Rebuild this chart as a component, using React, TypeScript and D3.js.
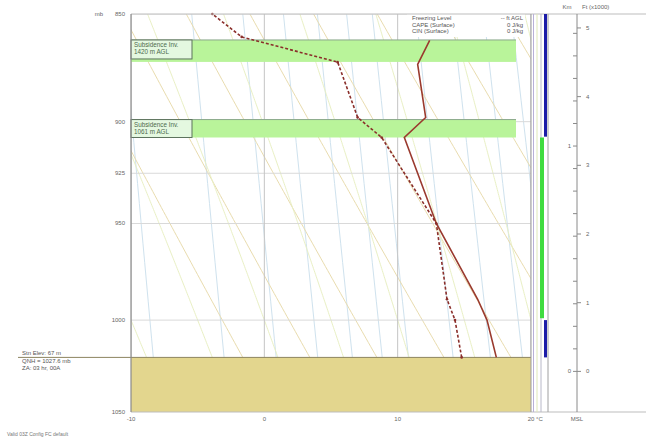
import React from "react";
import * as d3 from "d3";

// ---- data ----
const pressureTicks = [850, 900, 925, 950, 1000, 1050];
const pressureLabels = ["850", "900", "925", "950", "1000", "1050"];
const tempTicks = [-10, 0, 10, 20];
const tempTickLabels = ["-10", "0", "10", "20"];

const tempP = [1020, 1000, 989, 950, 907.6, 898, 873, 862];
const tempT = [17.4, 16.7, 16.0, 12.9, 10.5, 12.1, 11.5, 12.4];
const dewP = [1020, 1000, 989, 950, 907.6, 898, 872, 860.4, 850];
const dewT = [14.8, 14.3, 13.7, 12.9, 8.8, 7.0, 5.5, -1.7, -3.9];

const bandTopP = [861.8, 899];
const bandBotP = [871.9, 907.6];
const bandLabel1 = ["Subsidence Inv.", "Subsidence Inv."];
const bandLabel2 = ["1420 m AGL", "1061 m AGL"];

const barTopP = [850, 907.6, 1000];
const barBotP = [907.2, 999, 1020];
const barColors = ["#1c1ca8", "#3fdc3f", "#1c1ca8"];

const infoLeft = ["Freezing Level", "CAPE (Surface)", "CIN (Surface)"];
const infoRight = ["-- ft AGL", "0 J/kg", "0 J/kg"];

const stationText = ["Stn Elev: 67 m", "QNH = 1027.6 mb", "ZA: 03 hr, 00A"];
const groundP = 1020;
const qnh = 1027.6;

const kmTicks = [0, 100, 200, 300, 400, 500, 600, 700, 800, 900, 1000, 1100, 1200, 1300, 1400, 1500];
const kmLabels = ["0", "1"];
const ftTicks = [0, 1, 2, 3, 4, 5];

const dryThetas = [270, 275, 280, 285, 290, 295, 300, 305, 310, 315, 320, 325, 330, 335];
const moistStarts = [-10, -5, 0, 5, 10, 15, 20, 25, 30];
const mixRatios = [2, 3, 4, 5, 6, 7, 8, 10, 12, 14, 16, 20];

// ---- helpers ----
const FONT = "'Liberation Sans', Arial, sans-serif";
const x = d3.scaleLinear().domain([-10, 20]).range([131, 531]);
const y = d3.scaleLog().domain([850, 1050]).range([14, 412]);
const H = 8358;
const zToP = (z: number) => qnh * Math.exp(-z / H);

function presRange(step = 2) {
  return d3.range(850, 1050.01, step);
}

function dryLine(theta: number) {
  return presRange().map((p) => [theta * Math.pow(p / 1000, 0.2857) - 273.15, p] as [number, number]);
}

function satMix(T: number, p: number) {
  const es = 6.112 * Math.exp((17.67 * T) / (T + 243.5));
  return (0.622 * es) / (p - es);
}

function moistLine(t0: number) {
  const Rd = 287, cp = 1005, Lv = 2.5e6, eps = 0.622;
  const dTdp = (T: number, p: number) => {
    const Tk = T + 273.15;
    const rs = satMix(T, p);
    return ((Rd * Tk + Lv * rs) / (cp + (Lv * Lv * rs * eps) / (Rd * Tk * Tk))) / (p * 100) * 100;
  };
  const up: [number, number][] = [];
  let T = t0;
  for (let p = 1000; p >= 850; p -= 1) {
    up.push([T, p]);
    T -= dTdp(T, p) * 1;
  }
  const down: [number, number][] = [];
  T = t0;
  for (let p = 1000; p <= 1050; p += 1) {
    down.push([T, p]);
    T += dTdp(T, p) * 1;
  }
  return [...up.reverse(), ...down.slice(1)];
}

function mixLine(w: number) {
  return presRange(10).map((p) => {
    const e = (w * p) / (622 + w);
    const l = Math.log(e / 6.112);
    return [(243.5 * l) / (17.67 - l), p] as [number, number];
  });
}

const lineGen = d3
  .line<[number, number]>()
  .x((d) => x(d[0]))
  .y((d) => y(d[1]));

export default function App() {
  const tempData = tempP.map((p, i) => [tempT[i], p] as [number, number]);
  const dewData = dewP.map((p, i) => [dewT[i], p] as [number, number]);
  const gY = y(groundP);
  const axisX = 577;

  return (
    <svg
      width={646}
      height={442}
      style={{ position: "absolute", left: 0, top: 0, display: "block", background: "#fff" }}
      fontFamily={FONT}
    >
      <defs>
        <clipPath id="plot">
          <rect x={131} y={14} width={400} height={398} />
        </clipPath>
      </defs>
      <rect x={0} y={0} width={646} height={442} fill="#fff" />

      <g clipPath="url(#plot)">
        {/* mixing ratio lines */}
        {mixRatios.map((w) => (
          <path key={"w" + w} d={lineGen(mixLine(w)) || ""} fill="none" stroke="#cfe2ee" strokeWidth={1} />
        ))}
        {/* dry adiabats */}
        {dryThetas.map((t) => (
          <path key={"d" + t} d={lineGen(dryLine(t)) || ""} fill="none" stroke="#e9dcae" strokeWidth={1} />
        ))}
        {/* moist adiabats */}
        {moistStarts.map((t) => (
          <path key={"m" + t} d={lineGen(moistLine(t)) || ""} fill="none" stroke="#e9f0c4" strokeWidth={1} />
        ))}
        {/* isobars */}
        {pressureTicks.map((p) => (
          <line key={"p" + p} x1={131} x2={531} y1={y(p)} y2={y(p)} stroke="#d9d9d9" strokeWidth={1} />
        ))}
        {/* isotherms */}
        {tempTicks.map((t) => (
          <line key={"t" + t} x1={x(t)} x2={x(t)} y1={14} y2={412} stroke="#c4c4c4" strokeWidth={1} />
        ))}
      </g>

      {/* inversion bands */}
      {bandTopP.map((pt, i) => (
        <g key={"b" + i}>
          <rect x={131} y={y(pt)} width={516 - 131} height={y(bandBotP[i]) - y(pt)} fill="#b9f49a" />
          <line x1={131} x2={516} y1={y(pt)} y2={y(pt)} stroke="#8aa88a" strokeWidth={1} />
          <rect
            x={131}
            y={y(pt)}
            width={61}
            height={i === 0 ? 19 : y(bandBotP[i]) - y(pt)}
            fill="#e4f8e0"
            stroke="#5d735d"
            strokeWidth={1}
          />
          <text x={134} y={y(pt) + 7} fontSize={6.3} fill="#4d6a4d">
            {bandLabel1[i]}
          </text>
          <text x={134} y={y(pt) + 14} fontSize={6.3} fill="#4d6a4d">
            {bandLabel2[i]}
          </text>
        </g>
      ))}

      {/* ground */}
      <rect x={131} y={gY} width={400} height={412 - gY} fill="#e3d68e" />
      <line x1={18} x2={531} y1={gY} y2={gY} stroke="#8c8460" strokeWidth={1} />

      {/* profiles */}
      <path d={lineGen(tempData) || ""} fill="none" stroke="#9a3a2e" strokeWidth={1.6} />
      <path d={lineGen(dewData) || ""} fill="none" stroke="#8a2e2a" strokeWidth={1.6} strokeDasharray="3,2" />
      {dewData.map((d, i) => (
        <circle key={"dd" + i} cx={x(d[0])} cy={y(d[1])} r={1.3} fill="#8a2e2a" />
      ))}

      {/* info box */}
      <rect x={407} y={14} width={118} height={23} fill="#fff" />
      {infoLeft.map((s, i) => (
        <g key={"info" + i}>
          <text x={412} y={20 + i * 6.5} fontSize={6} fill="#555">
            {s}
          </text>
          <text x={523} y={20 + i * 6.5} fontSize={6} fill="#555" textAnchor="end">
            {infoRight[i]}
          </text>
        </g>
      ))}

      {/* frame */}
      <line x1={131} x2={646} y1={14} y2={14} stroke="#bdbdbd" strokeWidth={1} />
      <line x1={131} x2={646} y1={412} y2={412} stroke="#bdbdbd" strokeWidth={1} />
      <line x1={131} x2={131} y1={14} y2={412} stroke="#8a8a8a" strokeWidth={1.2} />
      <line x1={531} x2={531} y1={14} y2={412} stroke="#9a9a9a" strokeWidth={1} />

      {/* side columns */}
      <line x1={533.5} x2={533.5} y1={14} y2={412} stroke="#b8b0d8" strokeWidth={1} />
      <line x1={537} x2={537} y1={14} y2={412} stroke="#dfe8b8" strokeWidth={1} />
      <line x1={541} x2={541} y1={14} y2={412} stroke="#b8b8c8" strokeWidth={1} />
      <line x1={548} x2={548} y1={14} y2={412} stroke="#a0a0a0" strokeWidth={1} />
      {barTopP.map((p, i) => (
        <rect
          key={"bar" + i}
          x={i === 1 ? 540 : 544}
          y={y(p)}
          width={i === 1 ? 4 : 3}
          height={y(barBotP[i]) - y(p)}
          fill={barColors[i]}
        />
      ))}

      {/* right height axis */}
      <line x1={axisX} x2={axisX} y1={14} y2={412} stroke="#8a8a8a" strokeWidth={1} />
      {kmTicks.map((z) => (
        <line key={"km" + z} x1={axisX - 4} x2={axisX} y1={y(zToP(z))} y2={y(zToP(z))} stroke="#8a8a8a" />
      ))}
      {kmLabels.map((s, i) => (
        <text key={"kml" + i} x={axisX - 6} y={y(zToP(i * 1000)) + 2} fontSize={6} fill="#666" textAnchor="end">
          {s}
        </text>
      ))}
      {ftTicks.map((f) => (
        <g key={"ft" + f}>
          <line x1={axisX} x2={axisX + 4} y1={y(zToP(f * 304.8))} y2={y(zToP(f * 304.8))} stroke="#8a8a8a" />
          <text x={axisX + 9} y={y(zToP(f * 304.8)) + 2} fontSize={6} fill="#666">
            {f}
          </text>
        </g>
      ))}
      <text x={567} y={9} fontSize={6} fill="#666" textAnchor="middle">
        Km
      </text>
      <text x={582} y={9} fontSize={6} fill="#666">
        Ft (x1000)
      </text>
      <text x={577} y={421} fontSize={6} fill="#666" textAnchor="middle">
        MSL
      </text>

      {/* pressure axis labels */}
      <text x={103} y={16} fontSize={6} fill="#666" textAnchor="end">
        mb
      </text>
      {pressureTicks.map((p, i) => (
        <text key={"pl" + i} x={125} y={y(p) + 2} fontSize={6} fill="#666" textAnchor="end">
          {pressureLabels[i]}
        </text>
      ))}

      {/* temperature axis labels */}
      {tempTicks.map((t, i) => (
        <text key={"tl" + i} x={x(t)} y={421} fontSize={6} fill="#666" textAnchor="middle">
          {tempTickLabels[i]}
        </text>
      ))}
      <text x={536} y={421} fontSize={6} fill="#666">
        °C
      </text>

      {/* station info */}
      {stationText.map((s, i) => (
        <text key={"st" + i} x={22} y={gY - 2 + i * 7.5} fontSize={6} fill="#555">
          {s}
        </text>
      ))}
      <text x={7} y={436} fontSize={5} fill="#777">
        Valid 03Z Config FC default
      </text>
    </svg>
  );
}
